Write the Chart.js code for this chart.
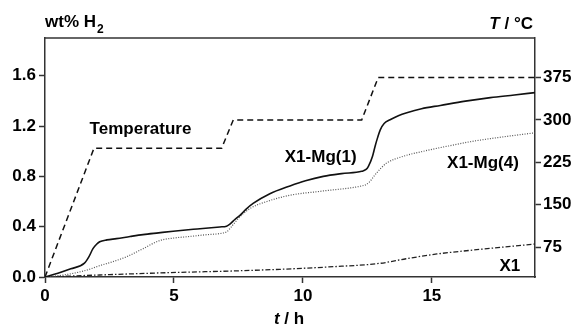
<!DOCTYPE html>
<html>
<head>
<meta charset="utf-8">
<script src="https://cdn.jsdelivr.net/npm/chart.js@4"></script>
<style>
  html, body { margin: 0; padding: 0; background: #fff; }
</style>
</head>
<body>
<canvas id="chart" width="579" height="327"></canvas>
<script>
// tick labels
const xTicks = [0, 5, 10, 15];
const h2Ticks = [0, 0.4, 0.8, 1.2, 1.6];
const tempTicks = [75, 150, 225, 300, 375];

// temperature program (right axis, °C)
const tempTime = [0, 1.9, 6.85, 7.3, 12.28, 12.92, 19];
const tempValues = [22, 250, 250, 300, 300, 375, 375];

// X1-Mg(1), wt% H2
const mg1Time = [0, 0.5, 1.0, 1.53, 1.7, 1.86, 2.0, 2.12, 2.4, 2.77, 3.3, 3.8, 4.4, 4.97, 5.9, 6.78, 7.04, 7.17, 7.35, 7.56, 7.8, 8.07, 8.7, 9.5, 10.1, 10.79, 11.5, 12.28, 12.45, 12.54, 12.7, 12.8, 12.9, 13.0, 13.15, 13.38, 13.7, 14.03, 14.6, 15.33, 16.3, 17.27, 18.2, 19.0];
const mg1Values = [0, 0.03, 0.065, 0.11, 0.16, 0.225, 0.26, 0.28, 0.295, 0.305, 0.322, 0.337, 0.351, 0.364, 0.382, 0.398, 0.404, 0.42, 0.455, 0.49, 0.54, 0.585, 0.66, 0.724, 0.765, 0.8, 0.822, 0.84, 0.855, 0.88, 0.96, 1.04, 1.11, 1.17, 1.22, 1.25, 1.282, 1.306, 1.338, 1.364, 1.398, 1.426, 1.447, 1.466];

// X1-Mg(4), wt% H2
const mg4Time = [0, 0.7, 1.34, 1.7, 2.12, 2.6, 3.15, 3.8, 4.45, 5.0, 5.49, 6.2, 6.91, 7.05, 7.17, 7.35, 7.56, 8.0, 8.6, 9.5, 10.79, 12.28, 12.45, 12.6, 12.75, 12.87, 13.05, 13.25, 13.9, 14.68, 15.6, 16.62, 17.8, 19.0];
const mg4Values = [0, 0.015, 0.04, 0.06, 0.09, 0.12, 0.16, 0.225, 0.29, 0.31, 0.32, 0.335, 0.35, 0.36, 0.385, 0.43, 0.48, 0.55, 0.6, 0.65, 0.684, 0.724, 0.735, 0.76, 0.8, 0.83, 0.87, 0.906, 0.96, 1.0, 1.04, 1.08, 1.115, 1.146];

// X1, wt% H2
const x1Time = [0, 2.12, 4.7, 7.3, 9.1, 11.0, 13.0, 14.0, 15.2, 16.88, 18.9, 19.0];
const x1Values = [0, 0.016, 0.034, 0.048, 0.061, 0.08, 0.109, 0.145, 0.183, 0.22, 0.26, 0.262];

const FONT = "'Liberation Sans', Arial, sans-serif";
const AXIS = '#333';

function zip(xs, ys) {
  return xs.map((x, i) => ({ x: x, y: ys[i] }));
}

function fixedTicks(values) {
  return scale => { scale.ticks = values.map(v => ({ value: v })); };
}

// series labels placed in data coordinates
const seriesLabels = [
  { text: 'Temperature', t: 1.73, w: 1.137, align: 'left' },
  { text: 'X1-Mg(1)', t: 12.08, w: 0.917, align: 'right' },
  { text: 'X1-Mg(4)', t: 15.59, w: 0.864, align: 'left' },
  { text: 'X1', t: 18.43, w: 0.048, align: 'right' }
];

const textPlugin = {
  id: 'texts',
  afterDraw(chart) {
    const { ctx, chartArea: a, scales } = chart;
    ctx.save();

    // top frame line
    ctx.strokeStyle = AXIS;
    ctx.lineWidth = 1.5;
    ctx.beginPath();
    ctx.moveTo(a.left, a.top);
    ctx.lineTo(a.right, a.top);
    ctx.stroke();

    ctx.fillStyle = '#000';
    ctx.textBaseline = 'alphabetic';
    ctx.font = 'bold 17px ' + FONT;
    seriesLabels.forEach(l => {
      ctx.textAlign = l.align;
      ctx.fillText(l.text, scales.x.getPixelForValue(l.t), scales.y.getPixelForValue(l.w));
    });

    // left axis title: wt% H2
    ctx.textAlign = 'left';
    ctx.font = 'bold 17px ' + FONT;
    ctx.fillText('wt% H', a.left, 27);
    const w1 = ctx.measureText('wt% H').width;
    ctx.font = 'bold 12px ' + FONT;
    ctx.fillText('2', a.left + w1 + 1, 33);

    // right axis title: T / °C
    ctx.textAlign = 'right';
    ctx.font = 'bold 17px ' + FONT;
    const rest = ' / °C';
    ctx.fillText(rest, a.right - 2, 29);
    const wr = ctx.measureText(rest).width;
    ctx.font = 'italic bold 17px ' + FONT;
    ctx.fillText('T', a.right - 2 - wr, 29);

    // x axis title: t / h
    ctx.textAlign = 'left';
    ctx.font = 'italic bold 17px ' + FONT;
    const wt = ctx.measureText('t').width;
    ctx.font = 'bold 17px ' + FONT;
    const wh = ctx.measureText(' / h').width;
    const cx = 289 - (wt + wh) / 2;
    ctx.font = 'italic bold 17px ' + FONT;
    ctx.fillText('t', cx, 324);
    ctx.font = 'bold 17px ' + FONT;
    ctx.fillText(' / h', cx + wt, 324);

    ctx.restore();
  }
};

const tickFont = { family: FONT, size: 17, weight: 'bold' };

new Chart(document.getElementById('chart'), {
  type: 'line',
  data: {
    datasets: [
      {
        label: 'Temperature',
        data: zip(tempTime, tempValues),
        yAxisID: 'yT',
        borderColor: '#111',
        borderWidth: 1.5,
        borderDash: [6, 4],
        pointRadius: 0,
        tension: 0
      },
      {
        label: 'X1-Mg(1)',
        data: zip(mg1Time, mg1Values),
        yAxisID: 'y',
        borderColor: '#111',
        borderWidth: 1.6,
        pointRadius: 0,
        cubicInterpolationMode: 'monotone'
      },
      {
        label: 'X1-Mg(4)',
        data: zip(mg4Time, mg4Values),
        yAxisID: 'y',
        borderColor: '#555',
        borderWidth: 1.2,
        borderDash: [1, 1.5],
        pointRadius: 0,
        cubicInterpolationMode: 'monotone'
      },
      {
        label: 'X1',
        data: zip(x1Time, x1Values),
        yAxisID: 'y',
        borderColor: '#222',
        borderWidth: 1.3,
        borderDash: [5, 2, 1.5, 2],
        pointRadius: 0,
        cubicInterpolationMode: 'monotone'
      }
    ]
  },
  options: {
    responsive: false,
    animation: false,
    layout: { padding: { top: 38, left: 0, right: 0, bottom: 0 } },
    plugins: { legend: { display: false }, tooltip: { enabled: false } },
    scales: {
      x: {
        type: 'linear',
        position: 'bottom',
        min: 0,
        max: 19,
        afterBuildTicks: fixedTicks(xTicks),
        afterFit: s => { s.height = 50; },
        grid: { drawOnChartArea: false, tickLength: 6, color: AXIS, tickWidth: 1.5 },
        border: { color: AXIS, width: 1.5 },
        ticks: { font: tickFont, color: '#000', padding: 3, maxRotation: 0 }
      },
      y: {
        type: 'linear',
        position: 'left',
        min: 0,
        max: 1.9,
        afterBuildTicks: fixedTicks(h2Ticks),
        afterFit: s => { s.width = 45; },
        grid: { drawOnChartArea: false, tickLength: 6, color: AXIS, tickWidth: 1.5 },
        border: { color: AXIS, width: 1.5 },
        ticks: { font: tickFont, color: '#000', padding: 3, callback: v => v.toFixed(1) }
      },
      yT: {
        type: 'linear',
        position: 'right',
        min: 22,
        max: 445,
        afterBuildTicks: fixedTicks(tempTicks),
        afterFit: s => { s.width = 44; },
        grid: { drawOnChartArea: false, tickLength: 6, color: AXIS, tickWidth: 1.5 },
        border: { color: AXIS, width: 1.5 },
        ticks: { font: tickFont, color: '#000', padding: 2 }
      }
    }
  },
  plugins: [textPlugin]
});
</script>
</body>
</html>
